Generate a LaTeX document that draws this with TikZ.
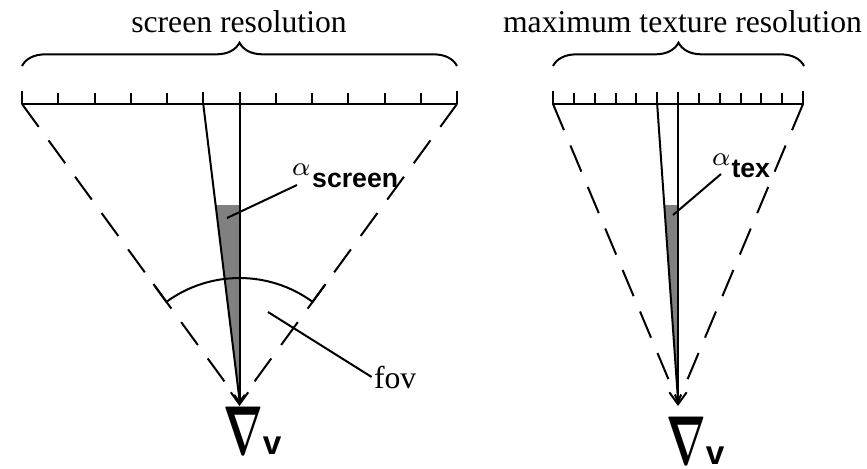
\documentclass[tikz,border=0pt]{standalone}
\usepackage{amsmath}
\usepackage{fontspec}
\setmainfont{Liberation Serif}
\setsansfont{Liberation Sans}
\usetikzlibrary{arrows.meta,decorations.pathreplacing,calc}
\begin{document}
\begin{tikzpicture}[x=0.3pt,y=-0.3pt,line width=0.6pt,
  dashline/.style={dash pattern=on 8.5pt off 5pt,line width=0.6pt},
  arr/.style={-{Straight Barb[length=3.6pt,width=5.2pt]}},
  bracestyle/.style={decorate,decoration={brace,amplitude=7pt}},
  titletext/.style={font=\fontsize{9.5}{10}\selectfont,inner sep=0pt},
  labeltext/.style={anchor=base west,inner sep=0pt},
  viewer/.style={anchor=base west,inner sep=0pt}]
\useasboundingbox (0,0) rectangle (867,468);

% ---------- left diagram ----------
\coordinate (L0) at (22,104);
\coordinate (L5) at (203.25,104);
\coordinate (L6) at (239.5,104);
\coordinate (L12) at (457,104);
\coordinate (VL) at (239.5,402);
\coordinate (AL) at (239.5,406);
\coordinate (SL) at (239.5,400);

\fill[gray] (215.6,205) -- (239.5,205) -- (SL) -- cycle;

\node[titletext] (t1) at (239,22) {screen resolution};
\draw[bracestyle] (22,66) -- (457,66);
\draw (L0) -- (L12);
\foreach \i in {1,...,11} \draw ({22+36.25*\i},93) -- ({22+36.25*\i},104);
\draw (22,91) -- (L0);
\draw (457,91) -- (L12);
\draw (203.25,92) -- (L5);
\draw (239.5,92) -- (L6);
\draw (L5) -- (SL);
\draw[arr] (L6) -- (AL);
\draw[dashline] (L0) -- (VL);
\draw[dashline] (L12) -- (VL);
\draw ($(VL)+(-126.12:146)$) -- ($(VL)+(-126.12:124)$)
      arc[start angle=-126.12,end angle=-53.88,radius=124]
      -- ($(VL)+(-53.88:146)$);

\node[labeltext] (asc) at (291,187) {\raisebox{3.4pt}{\fontsize{8}{8}\selectfont$\alpha$}\kern0.6pt{\sffamily\bfseries\fontsize{8}{8}\selectfont screen}};
\coordinate (ascp) at (227,218);
\coordinate (asce) at (297,185);
\draw (ascp) -- (asce);

\node[labeltext,font=\fontsize{9.5}{10}\selectfont] (fov) at (373,388) {fov};
\coordinate (fovp) at (268,312);
\draw (fovp) -- ([xshift=-0.4pt]fov.west);

\node[viewer] (vl) at (222,454) {\scalebox{0.6}[1]{\fontsize{20}{20}\selectfont$\boldsymbol{\nabla}$}{\sffamily\bfseries\fontsize{10}{10}\selectfont v}};

% ---------- right diagram ----------
\coordinate (R0) at (553,104);
\coordinate (R5) at (657.17,104);
\coordinate (R6) at (678,104);
\coordinate (R12) at (803,104);
\coordinate (VR) at (678,402);
\coordinate (AR) at (678,406);
\coordinate (SR) at (678,400);

\fill[gray] (664.3,205) -- (678,205) -- (SR) -- cycle;

\node[titletext] (t2) at (682.5,22) {maximum texture resolution};
\draw[bracestyle] (553,66) -- (804,66);
\draw (R0) -- (R12);
\foreach \i in {1,...,11} \draw ({553+20.833*\i},93) -- ({553+20.833*\i},104);
\draw (553,91) -- (R0);
\draw (803,91) -- (R12);
\draw (657.17,92) -- (R5);
\draw (678,92) -- (R6);
\draw (R5) -- (SR);
\draw[arr] (R6) -- (AR);
\draw[dashline] (R0) -- (VR);
\draw[dashline] (R12) -- (VR);

\node[labeltext] (atx) at (711,177) {\raisebox{3.4pt}{\fontsize{8}{8}\selectfont$\alpha$}\kern0.4pt{\sffamily\bfseries\fontsize{8}{8}\selectfont tex}};
\coordinate (atxp) at (673,215);
\coordinate (atxe) at (721,174);
\draw (atxp) -- (atxe);

\node[viewer] (vr) at (665,464) {\scalebox{0.6}[1]{\fontsize{20}{20}\selectfont$\boldsymbol{\nabla}$}{\sffamily\bfseries\fontsize{10}{10}\selectfont v}};
\end{tikzpicture}
\end{document}
